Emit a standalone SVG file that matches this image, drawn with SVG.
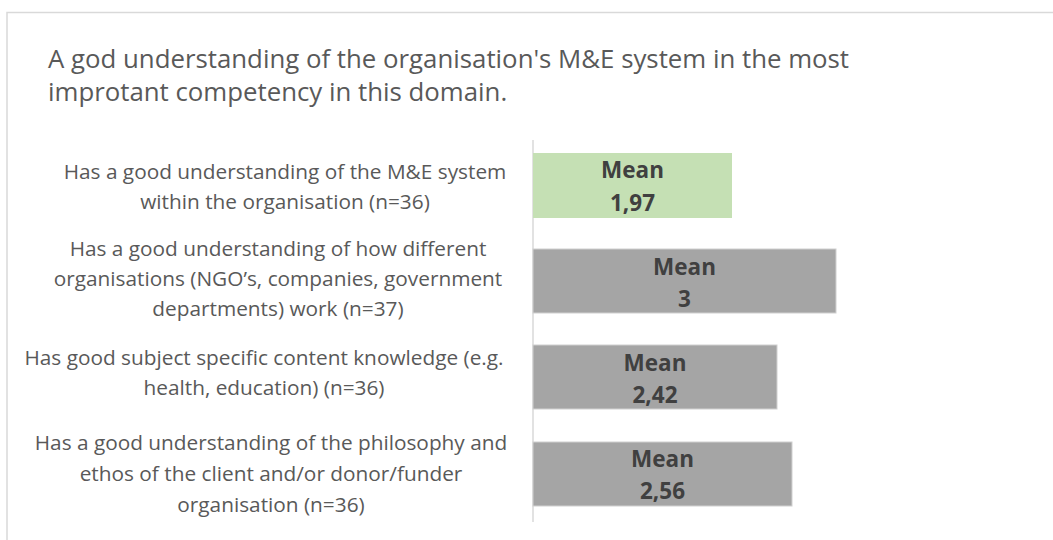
<svg xmlns="http://www.w3.org/2000/svg" width="1053" height="540" viewBox="0 0 1053 540">
<style>
.frame{stroke:#D9D9D9;stroke-width:1.5;fill:none}
.title{font-family:"Open Sans","Liberation Sans",sans-serif;font-size:25.8px;fill:#595959}
.cat{font-family:"Open Sans","Liberation Sans",sans-serif;font-size:20.8px;fill:#595959;text-anchor:middle}
.val{font-family:"Open Sans","Liberation Sans",sans-serif;font-size:22.5px;font-weight:bold;fill:#404040;text-anchor:middle}
.green{fill:#C5E0B4}
.gray{fill:#A5A5A5;stroke:#D0D0D0;stroke-width:1}
.axis{stroke:#D9D9D9;stroke-width:1.5}
</style>
<rect width="1053" height="540" fill="#FFFFFF"/>
<path class="frame" d="M7,540 V12.5 H1053"/>
<g id="title">
<text class="title" x="48" y="68">A god understanding of the organisation's M&amp;E system in the most</text>
<text class="title" x="48" y="101">improtant competency in this domain.</text>
</g>
<g id="connectors">
<line class="axis" x1="533" y1="140" x2="533" y2="522"/>
</g>
<g id="cat1">
<text class="cat" x="285" y="179">Has a good understanding of the M&amp;E system</text>
<text class="cat" x="285" y="209">within the organisation (n=36)</text>
</g>
<g id="cat2">
<text class="cat" x="278" y="256">Has a good understanding of how different</text>
<text class="cat" x="278" y="286">organisations (NGO’s, companies, government</text>
<text class="cat" x="278" y="316">departments) work (n=37)</text>
</g>
<g id="cat3">
<text class="cat" x="264" y="365">Has good subject specific content knowledge (e.g.</text>
<text class="cat" x="264" y="395">health, education) (n=36)</text>
</g>
<g id="cat4">
<text class="cat" x="271" y="450">Has a good understanding of the philosophy and</text>
<text class="cat" x="271" y="481">ethos of the client and/or donor/funder</text>
<text class="cat" x="271" y="512">organisation (n=36)</text>
</g>
<g id="bar1">
<rect class="green" x="533" y="153" width="199" height="65"/>
<text class="val" x="632.5" y="178">Mean</text>
<text class="val" x="632.5" y="210.5">1,97</text>
</g>
<g id="bar2">
<rect class="gray" x="533" y="249" width="303" height="64"/>
<text class="val" x="684.5" y="274.5">Mean</text>
<text class="val" x="684.5" y="306.5">3</text>
</g>
<g id="bar3">
<rect class="gray" x="533" y="345" width="244" height="64"/>
<text class="val" x="655" y="371">Mean</text>
<text class="val" x="655" y="402.5">2,42</text>
</g>
<g id="bar4">
<rect class="gray" x="533" y="442" width="259" height="64"/>
<text class="val" x="662.5" y="466.5">Mean</text>
<text class="val" x="662.5" y="499">2,56</text>
</g>
</svg>
